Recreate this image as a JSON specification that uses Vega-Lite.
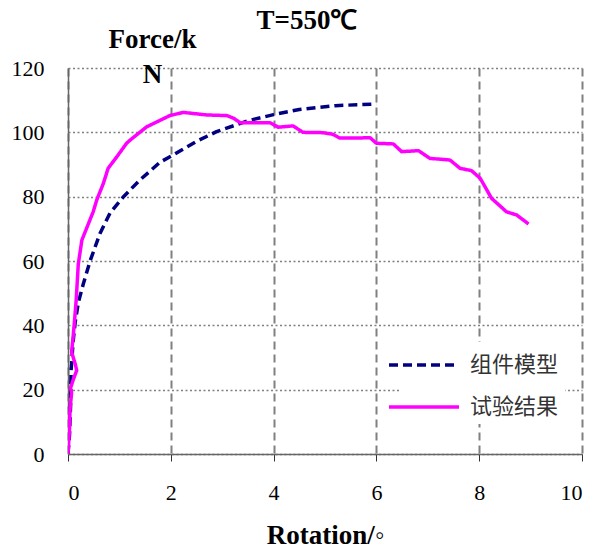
{
  "$schema": "https://vega.github.io/schema/vega-lite/v6.json",
  "autosize": "none",
  "width": 514,
  "height": 386,
  "padding": {"left": 68, "top": 68, "right": 16, "bottom": 97},
  "background": "white",
  "title": {"text": "T=550℃", "font": "Liberation Serif", "fontSize": 27, "fontWeight": "bold", "color": "black", "anchor": "middle", "frame": "group", "baseline": "bottom", "dx": -18, "offset": 0, "dy": 37},
  "data": {"values": [
    {"s": "组件模型", "o": 0, "x": 0, "y": 0},
    {"s": "组件模型", "o": 1, "x": 0.03, "y": 6},
    {"s": "组件模型", "o": 2, "x": 0.05, "y": 15},
    {"s": "组件模型", "o": 3, "x": 0.06, "y": 26},
    {"s": "组件模型", "o": 4, "x": 0.1, "y": 35},
    {"s": "组件模型", "o": 5, "x": 0.14, "y": 41},
    {"s": "组件模型", "o": 6, "x": 0.2, "y": 47},
    {"s": "组件模型", "o": 7, "x": 0.3, "y": 53},
    {"s": "组件模型", "o": 8, "x": 0.43, "y": 60},
    {"s": "组件模型", "o": 9, "x": 0.62, "y": 68.5},
    {"s": "组件模型", "o": 10, "x": 0.82, "y": 75},
    {"s": "组件模型", "o": 11, "x": 1.08, "y": 80},
    {"s": "组件模型", "o": 12, "x": 1.4, "y": 85.2},
    {"s": "组件模型", "o": 13, "x": 1.79, "y": 90.7},
    {"s": "组件模型", "o": 14, "x": 2.05, "y": 93},
    {"s": "组件模型", "o": 15, "x": 2.5, "y": 97.2},
    {"s": "组件模型", "o": 16, "x": 2.89, "y": 100.2},
    {"s": "组件模型", "o": 17, "x": 3.5, "y": 103.6},
    {"s": "组件模型", "o": 18, "x": 4.0, "y": 105.5},
    {"s": "组件模型", "o": 19, "x": 4.5, "y": 107.1},
    {"s": "组件模型", "o": 20, "x": 5.2, "y": 108.3},
    {"s": "组件模型", "o": 21, "x": 6.0, "y": 108.8},
    {"s": "试验结果", "o": 0, "x": 0, "y": 0},
    {"s": "试验结果", "o": 1, "x": 0.03, "y": 8},
    {"s": "试验结果", "o": 2, "x": 0.04, "y": 14},
    {"s": "试验结果", "o": 3, "x": 0.07, "y": 19},
    {"s": "试验结果", "o": 4, "x": 0.05, "y": 20.5},
    {"s": "试验结果", "o": 5, "x": 0.1, "y": 23},
    {"s": "试验结果", "o": 6, "x": 0.17, "y": 26},
    {"s": "试验结果", "o": 7, "x": 0.14, "y": 28},
    {"s": "试验结果", "o": 8, "x": 0.07, "y": 31.7},
    {"s": "试验结果", "o": 9, "x": 0.1, "y": 36.5},
    {"s": "试验结果", "o": 10, "x": 0.13, "y": 42},
    {"s": "试验结果", "o": 11, "x": 0.16, "y": 48},
    {"s": "试验结果", "o": 12, "x": 0.2, "y": 59},
    {"s": "试验结果", "o": 13, "x": 0.27, "y": 66.5},
    {"s": "试验结果", "o": 14, "x": 0.4, "y": 71.7},
    {"s": "试验结果", "o": 15, "x": 0.49, "y": 75.3},
    {"s": "试验结果", "o": 16, "x": 0.56, "y": 79},
    {"s": "试验结果", "o": 17, "x": 0.69, "y": 84.2},
    {"s": "试验结果", "o": 18, "x": 0.78, "y": 88.8},
    {"s": "试验结果", "o": 19, "x": 0.95, "y": 92.4},
    {"s": "试验结果", "o": 20, "x": 1.14, "y": 96.6},
    {"s": "试验结果", "o": 21, "x": 1.21, "y": 97.6},
    {"s": "试验结果", "o": 22, "x": 1.53, "y": 101.7},
    {"s": "试验结果", "o": 23, "x": 1.98, "y": 105.2},
    {"s": "试验结果", "o": 24, "x": 2.24, "y": 106.2},
    {"s": "试验结果", "o": 25, "x": 2.7, "y": 105.4},
    {"s": "试验结果", "o": 26, "x": 3.09, "y": 105.2},
    {"s": "试验结果", "o": 27, "x": 3.22, "y": 104.4},
    {"s": "试验结果", "o": 28, "x": 3.35, "y": 103},
    {"s": "试验结果", "o": 29, "x": 3.93, "y": 103},
    {"s": "试验结果", "o": 30, "x": 4.09, "y": 101.6},
    {"s": "试验结果", "o": 31, "x": 4.38, "y": 102},
    {"s": "试验结果", "o": 32, "x": 4.57, "y": 100},
    {"s": "试验结果", "o": 33, "x": 4.96, "y": 99.9},
    {"s": "试验结果", "o": 34, "x": 5.15, "y": 99.4},
    {"s": "试验结果", "o": 35, "x": 5.29, "y": 98.2},
    {"s": "试验结果", "o": 36, "x": 5.88, "y": 98.3},
    {"s": "试验结果", "o": 37, "x": 6.0, "y": 96.6},
    {"s": "试验结果", "o": 38, "x": 6.33, "y": 96.4},
    {"s": "试验结果", "o": 39, "x": 6.49, "y": 94},
    {"s": "试验结果", "o": 40, "x": 6.82, "y": 94.3},
    {"s": "试验结果", "o": 41, "x": 7.04, "y": 91.9},
    {"s": "试验结果", "o": 42, "x": 7.43, "y": 91.4},
    {"s": "试验结果", "o": 43, "x": 7.63, "y": 88.8},
    {"s": "试验结果", "o": 44, "x": 7.85, "y": 88.1},
    {"s": "试验结果", "o": 45, "x": 8.02, "y": 85.7},
    {"s": "试验结果", "o": 46, "x": 8.24, "y": 79.5},
    {"s": "试验结果", "o": 47, "x": 8.53, "y": 75.3},
    {"s": "试验结果", "o": 48, "x": 8.73, "y": 74.3},
    {"s": "试验结果", "o": 49, "x": 8.96, "y": 71.5}
  ]},
  "mark": {"type": "line", "strokeWidth": 3.5, "strokeCap": "butt", "strokeJoin": "round", "clip": true},
  "encoding": {
    "x": {"field": "x", "type": "quantitative",
      "scale": {"domain": [0, 10], "nice": false, "zero": true},
      "axis": {"values": [0, 2, 4, 6, 8, 10], "title": "Rotation/◦",
        "labelFont": "Liberation Serif", "labelFontSize": 22, "labelColor": "black", "labelPadding": 21,
        "titleFont": "Liberation Serif", "titleFontSize": 27, "titleFontWeight": "bold", "titleColor": "black", "titlePadding": 19,
        "domainColor": "#666666", "domainWidth": 1.5, "tickColor": "#333333", "tickSize": 7, "tickWidth": 1,
        "grid": true, "gridColor": "#808080", "gridWidth": 2, "gridDash": [8, 5]}},
    "y": {"field": "y", "type": "quantitative",
      "scale": {"domain": [0, 120], "nice": false},
      "axis": {"values": [0, 20, 40, 60, 80, 100, 120], "title": ["Force/k", "N"],
        "labelFont": "Liberation Serif", "labelFontSize": 22, "labelColor": "black", "labelPadding": 24,
        "ticks": false, "domainColor": "#666666", "domainWidth": 1.5,
        "titleFont": "Liberation Serif", "titleFontSize": 27, "titleFontWeight": "bold", "titleColor": "black",
        "titleAngle": 0, "titleAlign": "center", "titleBaseline": "top", "titleX": 84, "titleY": -42, "titleLineHeight": 35,
        "grid": true, "gridColor": "#808080", "gridWidth": 1.5, "gridDash": [2, 2.5]}},
    "color": {"field": "s", "type": "nominal",
      "scale": {"domain": ["组件模型", "试验结果"], "range": ["#000080", "#FF00FF"]},
      "legend": {"title": null, "orient": "none", "legendX": 333, "legendY": 274, "fillColor": "white", "padding": 6,
        "symbolType": "M-2.333,0H2.333", "symbolSize": 900, "symbolStrokeWidth": 3.5,
        "labelFont": "Noto Sans CJK SC", "labelFontSize": 22, "labelColor": "#333333", "labelOffset": 29, "rowPadding": 14,
        "labelLimit": 200}},
    "strokeDash": {"field": "s", "type": "nominal",
      "scale": {"domain": ["组件模型", "试验结果"], "range": [[9, 5], [1, 0]]},
      "legend": null},
    "order": {"field": "o", "type": "quantitative"}
  },
  "config": {"view": {"stroke": null}}
}
